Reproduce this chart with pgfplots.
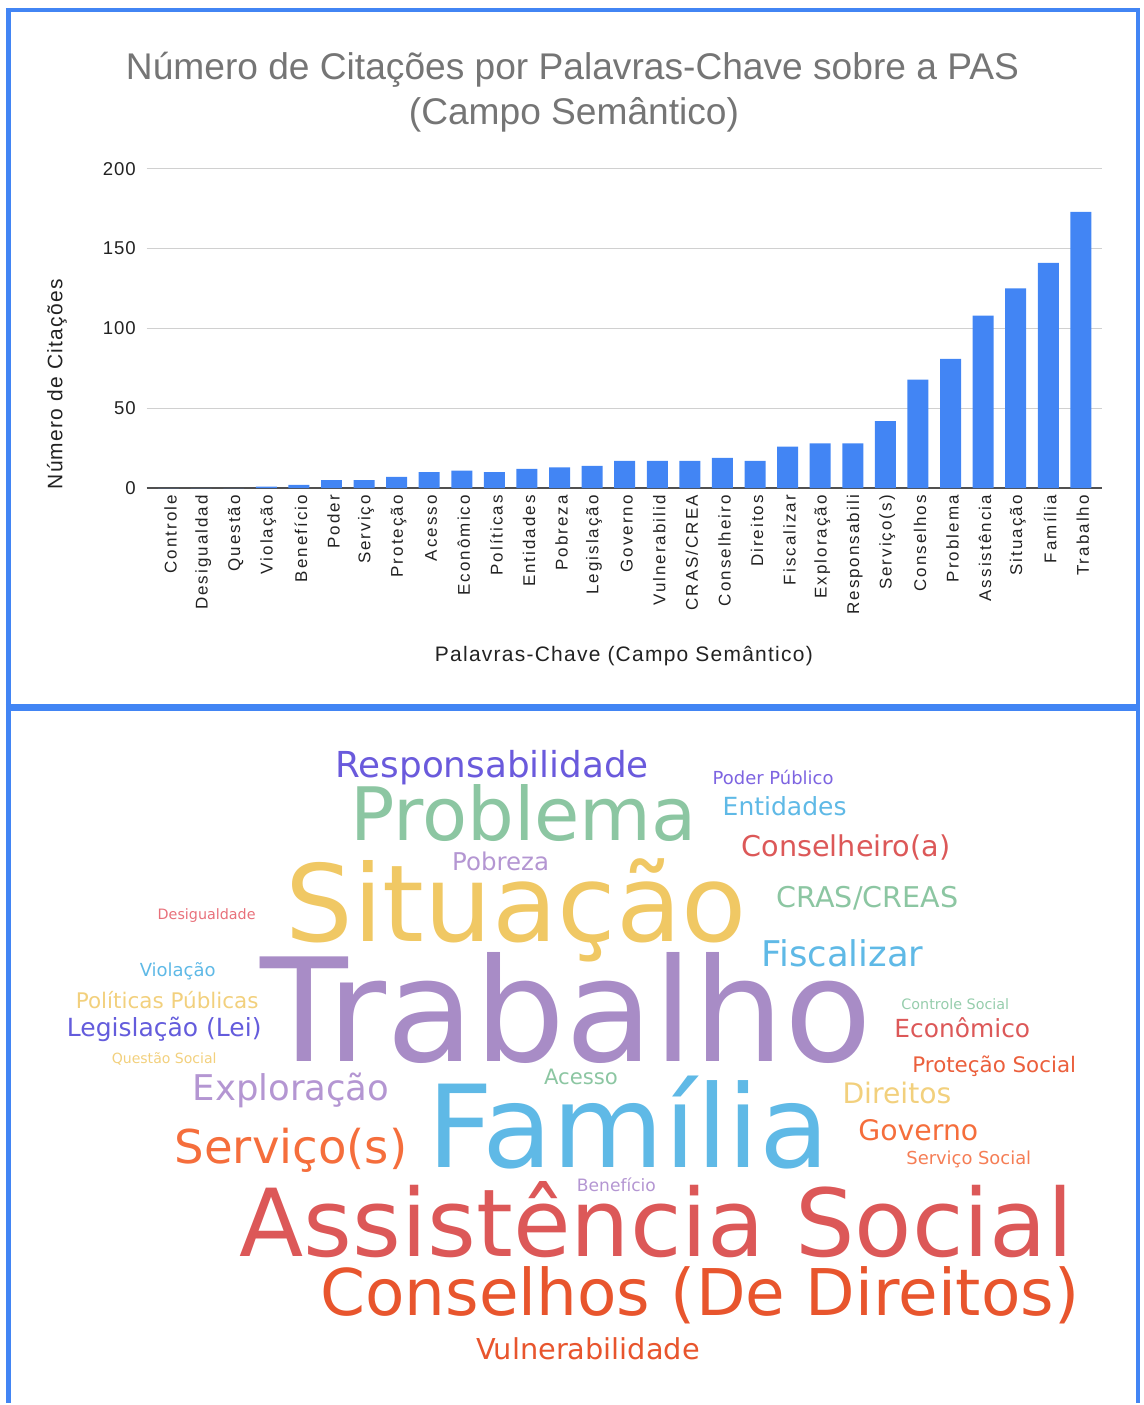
\documentclass[border=0pt]{standalone}
\usepackage{fontspec}
\setmainfont{Liberation Sans}
\newfontfamily\lspA[LetterSpace=12]{Liberation Sans}
\newfontfamily\lspB[LetterSpace=5]{Liberation Sans}
\newfontfamily\lspC[LetterSpace=6]{Liberation Sans}
\newfontfamily\wcf{DejaVu Sans}
\usepackage{graphicx}
\usepackage{pgfplots}
\pgfplotsset{compat=1.18}
\newdimen\pxu \pxu=0.5pt
\definecolor{barblue}{RGB}{66,133,244}
\definecolor{frameblue}{RGB}{66,133,244}
\definecolor{gridgray}{RGB}{208,208,208}
\definecolor{axisgray}{RGB}{80,80,80}
\definecolor{labgray}{RGB}{34,34,34}
\definecolor{titlegray}{RGB}{117,117,117}
\definecolor{cResp}{RGB}{106,90,220}
\definecolor{cPoder}{RGB}{125,100,225}
\definecolor{cGreen}{RGB}{140,198,162}
\definecolor{cGreenL}{RGB}{150,205,172}
\definecolor{cLBlue}{RGB}{95,185,230}
\definecolor{cRed}{RGB}{220,88,88}
\definecolor{cLav}{RGB}{180,150,210}
\definecolor{cYellow}{RGB}{240,200,100}
\definecolor{cYellowL}{RGB}{242,208,125}
\definecolor{cPink}{RGB}{232,112,122}
\definecolor{cTrab}{RGB}{168,140,198}
\definecolor{cLeg}{RGB}{100,92,220}
\definecolor{cOR}{RGB}{235,95,60}
\definecolor{cOrange}{RGB}{245,110,60}
\definecolor{cOrangeL}{RGB}{245,125,85}
\definecolor{cOR2}{RGB}{232,85,45}
\newcommand{\wc}[5]{\node[anchor=base west, inner sep=0pt, outer sep=0pt, text=#4] at (axis cs:#1,#2) {\resizebox{#3\pxu}{!}{\wcf #5}};}
\begin{document}
\begin{tikzpicture}
\begin{axis}[
  at={(73.5pt,-244.5pt)}, anchor=south west,
  width=478.5pt, height=160pt, scale only axis,
  xmin=-0.67, xmax=28.65, ymin=0, ymax=200,
  ytick={0,50,100,150,200},
  xtick={0,...,28},
  xticklabels={Controle,Desigualdad,Questão,Violação,Benefício,Poder,Serviço,Proteção,Acesso,Econômico,Políticas,Entidades,Pobreza,Legislação,Governo,Vulnerabilid,CRAS/CREA,Conselheiro,Direitos,Fiscalizar,Exploração,Responsabili,Serviço(s),Conselhos,Problema,Assistência,Situação,Família,Trabalho},
  axis x line*=bottom, axis y line*=left,
  y axis line style={draw=none},
  x axis line style={draw=axisgray, line width=1pt, -},
  major tick length=0pt,
  ymajorgrids, grid style={draw=gridgray, line width=0.6pt},
  xticklabel style={rotate=90, anchor=east, font=\lspA\fontsize{8.5}{9}\selectfont, text=labgray, yshift=-1pt},
  yticklabel style={font=\lspB\fontsize{9.3}{10}\selectfont, text=labgray, xshift=-2pt},
  /pgf/number format/assume math mode=true,
  ybar, bar width=10.5pt, clip=false,
]
\addplot[fill=barblue, draw=none] coordinates {
(0,0) (1,0) (2,0) (3,1) (4,2) (5,5) (6,5) (7,7) (8,10) (9,11)
(10,10) (11,12) (12,13) (13,14) (14,17) (15,17) (16,17) (17,19) (18,17) (19,26)
(20,28) (21,28) (22,42) (23,68) (24,81) (25,108) (26,125) (27,141) (28,173)
};
\end{axis}
\begin{axis}[
  at={(0pt,0pt)}, anchor=north west,
  width=571pt, height=702.5pt, scale only axis, hide axis,
  xmin=0, xmax=1142, ymin=0, ymax=1405, y dir=reverse, clip=false,
]
% fix the bounding box to the full image
\path (axis cs:0,0) -- (axis cs:1142,1405);
% frame
\draw[frameblue, line width=2.5pt] (axis cs:8.5,8) -- (axis cs:8.5,1405);
\draw[frameblue, line width=2pt] (axis cs:6,10) -- (axis cs:1142,10);
\draw[frameblue, line width=2pt] (axis cs:1140,8) -- (axis cs:1140,1405);
\draw[frameblue, line width=3.5pt] (axis cs:6,709) -- (axis cs:1142,709);
% titles and axis labels
\node[anchor=base, inner sep=0pt, text=titlegray, font=\fontsize{18.6}{20}\selectfont] at (axis cs:573.5,80) {Número de Citações por Palavras-Chave sobre a PAS};
\node[anchor=base, inner sep=0pt, text=titlegray, font=\fontsize{18.6}{20}\selectfont] at (axis cs:575,125) {(Campo Semântico)};
\node[rotate=90, inner sep=0pt, text=labgray, font=\lspC\fontsize{10.5}{12}\selectfont] at (axis cs:57,385) {Número de Citações};
\node[inner sep=0pt, text=labgray, font=\lspC\fontsize{10.5}{12}\selectfont] at (axis cs:625,657) {Palavras-Chave (Campo Semântico)};
% word cloud
\wc{336}{779}{314}{cResp}{Responsabilidade}
\wc{714}{786}{121}{cPoder}{Poder Público}
\wc{351}{842}{347}{cGreen}{Problema}
\wc{724}{817}{124}{cLBlue}{Entidades}
\wc{743}{858}{209}{cRed}{Conselheiro(a)}
\wc{453}{872}{97}{cLav}{Pobreza}
\wc{286}{943}{462}{cYellow}{Situação}
\wc{778}{909}{182}{cGreen}{CRAS/CREAS}
\wc{158}{921}{98}{cPink}{Desigualdade}
\wc{763}{968}{162}{cLBlue}{Fiscalizar}
\wc{140}{978}{76}{cLBlue}{Violação}
\wc{261}{1063}{612}{cTrab}{Trabalho}
\wc{76}{1010}{183}{cYellowL}{Políticas Públicas}
\wc{903}{1011}{108}{cGreenL}{Controle Social}
\wc{67}{1038}{195}{cLeg}{Legislação (Lei)}
\wc{896}{1039}{136}{cRed}{Econômico}
\wc{112}{1065}{105}{cYellowL}{Questão Social}
\wc{914}{1074}{164}{cOR}{Proteção Social}
\wc{545}{1086}{74}{cGreen}{Acesso}
\wc{193}{1102}{197}{cLav}{Exploração}
\wc{844}{1105}{109}{cYellowL}{Direitos}
\wc{428}{1170}{403}{cLBlue}{Família}
\wc{175}{1166}{233}{cOrange}{Serviço(s)}
\wc{860}{1142}{120}{cOrange}{Governo}
\wc{908}{1167}{125}{cOrangeL}{Serviço Social}
\wc{578}{1194}{79}{cLav}{Benefício}
\wc{240}{1259}{835}{cRed}{Assistência Social}
\wc{321}{1318}{760}{cOR2}{Conselhos (De Direitos)}
\wc{477}{1362}{224}{cOR2}{Vulnerabilidade}
\end{axis}
\end{tikzpicture}
\end{document}
